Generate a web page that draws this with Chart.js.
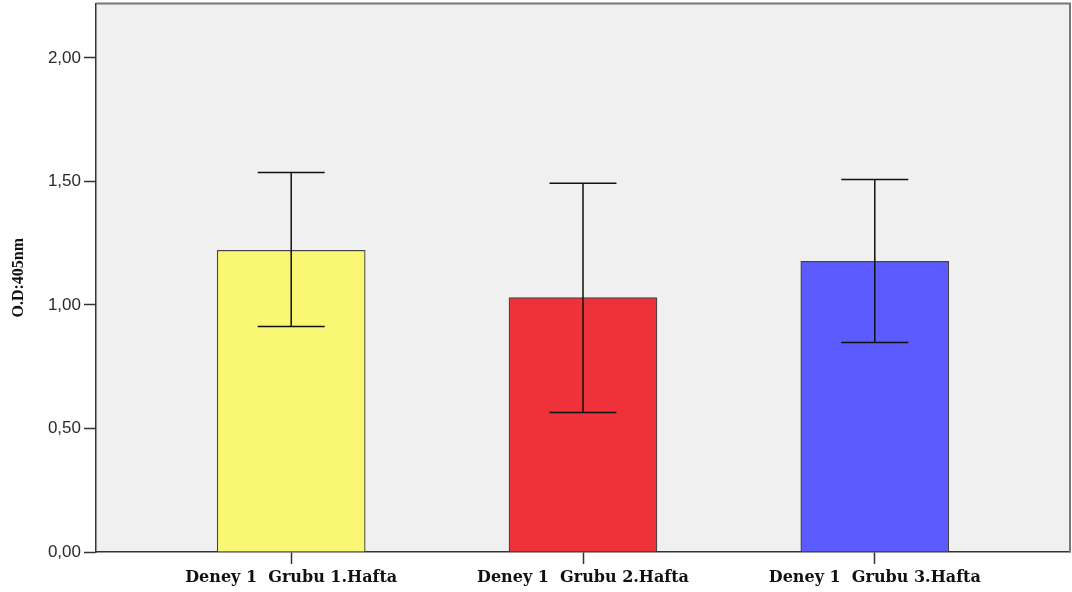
<!DOCTYPE html>
<html>
<head>
<meta charset="utf-8">
<script src="https://cdn.jsdelivr.net/npm/chart.js@4.4.1/dist/chart.umd.min.js"></script>
<style>
html,body{margin:0;padding:0;background:#fff;}
#wrap{width:1072px;height:592px;}
</style>
</head>
<body>
<div id="wrap"><canvas id="c" width="1072" height="592"></canvas></div>
<script>
const categories = ['Deney 1  Grubu 1.Hafta', 'Deney 1  Grubu 2.Hafta', 'Deney 1  Grubu 3.Hafta'];
const means = [1.221, 1.030, 1.176];
const upperCI = [1.536, 1.492, 1.508];
const lowerCI = [0.913, 0.565, 0.848];
const barColors = ['#F9F773', '#EF323A', '#5B5BFF'];
const yTicks = [0, 0.5, 1.0, 1.5, 2.0];
const yTitle = 'O.D:405nm';

const errorBarPlugin = {
  id: 'errorBars',
  beforeDraw(chart) {
    const {ctx, chartArea: a} = chart;
    ctx.save();
    ctx.fillStyle = '#F0F0F0';
    ctx.fillRect(a.left, a.top, a.right - a.left, a.bottom - a.top);
    ctx.restore();
  },
  afterDatasetsDraw(chart) {
    const {ctx} = chart;
    const xs = chart.scales.x, ys = chart.scales.y;
    ctx.save();
    ctx.strokeStyle = '#111';
    ctx.lineWidth = 1.5;
    means.forEach((m, i) => {
      const x = xs.getPixelForValue(i);
      const yt = ys.getPixelForValue(upperCI[i]);
      const yb = ys.getPixelForValue(lowerCI[i]);
      const hw = 33.5;
      ctx.beginPath();
      ctx.moveTo(x, yt); ctx.lineTo(x, yb);
      ctx.moveTo(x - hw, yt); ctx.lineTo(x + hw, yt);
      ctx.moveTo(x - hw, yb); ctx.lineTo(x + hw, yb);
      ctx.stroke();
    });
    ctx.restore();
  },
  afterDraw(chart) {
    const {ctx, chartArea: a} = chart;
    ctx.save();
    ctx.strokeStyle = '#777';
    ctx.lineWidth = 2;
    ctx.beginPath();
    ctx.moveTo(a.left, a.top); ctx.lineTo(a.right, a.top); ctx.lineTo(a.right, a.bottom);
    ctx.stroke();
    ctx.restore();
  }
};

new Chart(document.getElementById('c'), {
  type: 'bar',
  data: {
    datasets: [{
      data: means.map((v, i) => ({x: i, y: v})),
      backgroundColor: barColors,
      borderColor: '#444',
      borderWidth: 1.2,
      barThickness: 148
    }]
  },
  options: {
    responsive: false,
    animation: false,
    devicePixelRatio: 1,
    layout: {padding: {top: 3.5, right: 2, left: 0, bottom: 0}},
    plugins: {legend: {display: false}, tooltip: {enabled: false}},
    scales: {
      x: {
        type: 'linear',
        min: -0.669,
        max: 2.669,
        offset: false,
        afterBuildTicks(s) { s.ticks = categories.map((c, i) => ({value: i})); },
        afterFit(s) { s.height = 40; s.paddingLeft = 0; s.paddingRight = 0; },
        ticks: {
          autoSkip: false,
          maxRotation: 0,
          padding: 4,
          color: '#111',
          font: {family: '"DejaVu Serif"', size: 16, weight: 'bold'},
          callback: (v) => categories[v]
        },
        grid: {drawOnChartArea: false, offset: false, tickLength: 12, color: '#333', tickWidth: 1.5},
        border: {color: '#333', width: 1.5}
      },
      y: {
        min: 0,
        max: 2.22,
        afterBuildTicks(s) { s.ticks = yTicks.map(v => ({value: v})); },
        afterFit(s) { s.width = 96; s.paddingTop = 0; s.paddingBottom = 0; },
        ticks: {
          padding: 3,
          color: '#2a2a2a',
          font: {family: '"Liberation Sans"', size: 17},
          callback: (v) => v.toFixed(2).replace('.', ',')
        },
        grid: {drawOnChartArea: false, tickLength: 12, color: '#333', tickWidth: 1.5},
        border: {color: '#333', width: 1.5},
        title: {
          display: true,
          text: yTitle,
          color: '#111',
          padding: {top: 9, bottom: 0},
          font: {family: '"Liberation Serif"', size: 16, weight: 'bold'}
        }
      }
    }
  },
  plugins: [errorBarPlugin]
});
</script>
</body>
</html>
